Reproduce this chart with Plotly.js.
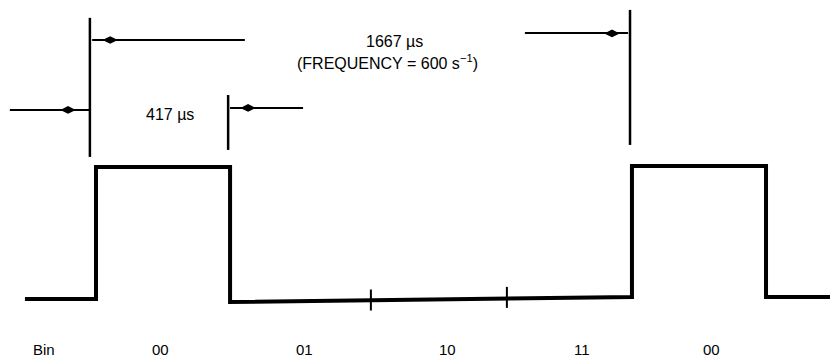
<!DOCTYPE html>
<html>
<head>
<meta charset="utf-8">
<script src="https://cdn.plot.ly/plotly-3.0.1.min.js"></script>
<style>html,body{margin:0;padding:0;background:#fff;}#chart{width:830px;height:361px;}</style>
</head>
<body>
<div id="chart"></div>
<script>
// ---- data (time in microseconds, level in logic units) ----
var waveTime  = [-221, 0, 0, 417, 417, 1667, 1667, 2084, 2084, 2290];
var waveLevel = [0, 0, 1, 1, -0.023, 0.015, 1.008, 1.008, 0.015, 0.015];
var tickTime  = [855, 1278];
var tickLevel = [-0.008, 0.012];
var binLabels = ["Bin", "00", "01", "10", "11", "00"];
var binTime   = [-162, 202, 650, 1092, 1512, 1913];
var pulseWidthText = "417 µs";
var periodText = "1667 µs";
var freqText = "(FREQUENCY = 600 s<sup>−1</sup>)";

var black = "#000";
var traces = [];
traces.push({x: waveTime, y: waveLevel, mode: "lines", line: {color: black, width: 4, shape: "linear"}, hoverinfo: "skip"});
traces.push({x: tickTime, y: tickLevel, mode: "markers", marker: {symbol: "line-ns", size: 15, line: {color: black, width: 2}}, hoverinfo: "skip"});

// dimension guides
function seg(xs, ys, w) {
  traces.push({x: xs, y: ys, mode: "lines", line: {color: black, width: w}, hoverinfo: "skip"});
}
function head(x, y) {
  traces.push({x: [x], y: [y], mode: "markers", marker: {symbol: "diamond-wide", size: 11, color: black}, hoverinfo: "skip"});
}
// period markers
seg([-19, -19], [2.13, 1.076], 2.5);
seg([-12, 463], [1.962, 1.962], 2);
head(44, 1.962);
seg([1661, 1661], [2.19, 1.167], 2.5);
seg([1334, 1655], [2.015, 2.015], 2);
head(1605, 2.012);
// pulse width markers
seg([-268, -19], [1.432, 1.432], 2);
head(-87, 1.432);
seg([411, 411], [1.545, 1.129], 2.5);
seg([417, 644], [1.447, 1.447], 2);
head(473, 1.447);

var fam = "Liberation Sans, Arial, sans-serif";
var annotations = [];
binLabels.forEach(function (b, i) {
  annotations.push({x: binTime[i], y: -0.386, text: b, showarrow: false, font: {family: fam, color: black, size: 15}, xanchor: "center", yanchor: "middle"});
});
annotations.push({x: 927, y: 1.95, text: periodText, showarrow: false, font: {family: fam, color: black, size: 16}, xanchor: "center", yanchor: "middle"});
annotations.push({x: 908, y: 1.795, text: freqText, showarrow: false, font: {family: fam, color: black, size: 16}, xanchor: "center", yanchor: "middle"});
annotations.push({x: 230, y: 1.40, text: pulseWidthText, showarrow: false, font: {family: fam, color: black, size: 16}, xanchor: "center", yanchor: "middle"});

var layout = {
  width: 830, height: 361,
  margin: {l: 0, r: 0, t: 0, b: 0},
  paper_bgcolor: "#fff", plot_bgcolor: "#fff",
  showlegend: false,
  xaxis: {range: [-298.6, 2283], visible: false, showgrid: false, zeroline: false, fixedrange: true},
  yaxis: {range: [-0.47, 2.265], visible: false, showgrid: false, zeroline: false, fixedrange: true},
  annotations: annotations
};
Plotly.newPlot("chart", traces, layout, {displayModeBar: false, staticPlot: true});
</script>
</body>
</html>
